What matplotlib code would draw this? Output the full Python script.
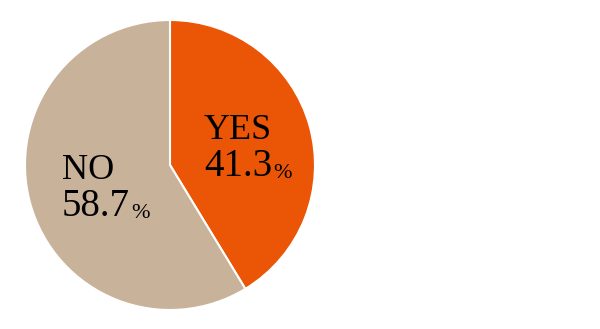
import matplotlib
matplotlib.use("Agg")
import matplotlib.pyplot as plt

labels = ["YES", "NO"]
values = [41.3, 58.7]
colors = ["#EA5506", "#C9B29A"]

fig = plt.figure(figsize=(6, 3.29), dpi=100)
ax = fig.add_axes([25/600, 19/329, 290/600, 290/329])

ax.pie(values, colors=colors, startangle=90, counterclock=False,
       wedgeprops=dict(edgecolor="white", linewidth=1.5))
ax.set_xlim(-1, 1)
ax.set_ylim(-1, 1)
ax.set_aspect("equal")

font = "Liberation Serif"
# label positions (data coords, left edge / baseline)
pos = [(0.235, 0.18, -0.075), (-0.745, -0.097, -0.352)]

for lab, val, (x, y1, y2) in zip(labels, values, pos):
    ax.text(x, y1, lab, fontsize=26, family=font, ha="left", va="baseline")
    t = ax.text(x, y2, f"{val:.1f}", fontsize=28, family=font, ha="left", va="baseline")
    ax.annotate("%", xy=(1, 0), xycoords=t, xytext=(1, 1.5), textcoords="offset points",
                fontsize=16, family=font, ha="left", va="bottom")

fig.savefig("out.png", dpi=100)
